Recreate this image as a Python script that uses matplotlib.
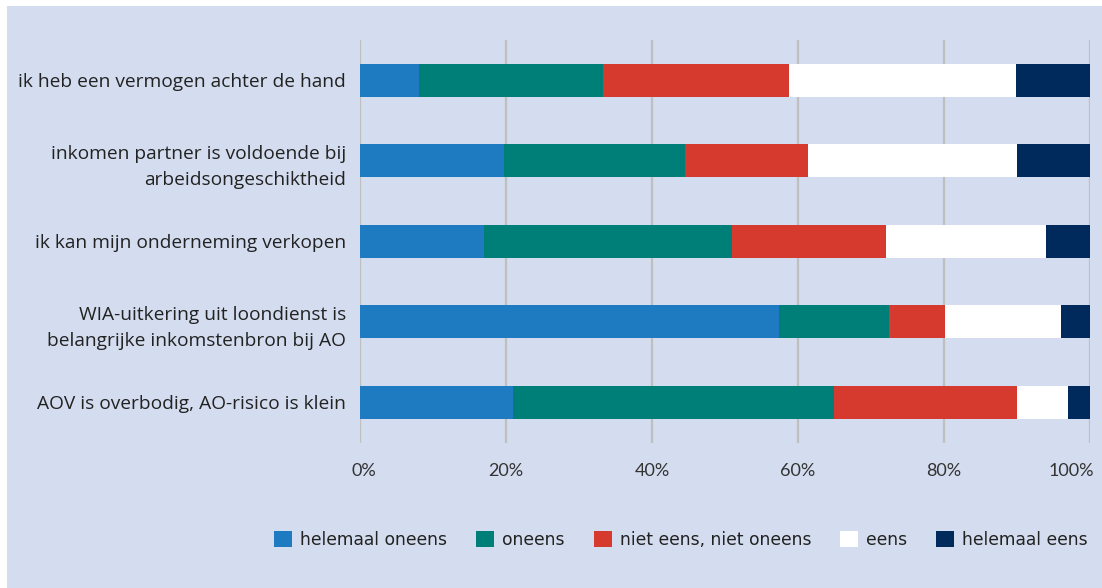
import matplotlib
matplotlib.use("Agg")
import matplotlib.pyplot as plt
from matplotlib.patches import Rectangle, Patch
import matplotlib.transforms as mtransforms
import numpy as np

categories = [
    "ik heb een vermogen achter de hand",
    "inkomen partner is voldoende bij\narbeidsongeschiktheid",
    "ik kan mijn onderneming verkopen",
    "WIA-uitkering uit loondienst is\nbelangrijke inkomstenbron bij AO",
    "AOV is overbodig, AO-risico is klein",
]
series_names = ["helemaal oneens", "oneens", "niet eens, niet oneens", "eens", "helemaal eens"]
helemaal_oneens = [8.1, 19.7, 17.0, 57.4, 21.0]
oneens = [25.2, 24.8, 34.0, 15.0, 43.9]
niet_eens_niet_oneens = [25.4, 16.9, 21.1, 7.8, 25.1]
eens = [31.2, 28.6, 21.9, 15.8, 7.0]
helemaal_eens = [10.1, 10.0, 6.0, 4.0, 3.0]
tick_values = [0, 20, 40, 60, 80, 100]
tick_labels = ["0%", "20%", "40%", "60%", "80%", "100%"]

colors = ["#1F7BC1", "#007E78", "#D63A2F", "#FFFFFF", "#002A5C"]
bg = "#D4DDEF"

W, H = 1102, 588
fig = plt.figure(figsize=(W / 100, H / 100), dpi=100)
fig.patch.set_facecolor("white")
fig.add_artist(Rectangle((7 / W, 0), 1 - 7 / W, 1 - 6 / H, transform=fig.transFigure,
                         facecolor=bg, edgecolor="none", zorder=0))

ax = fig.add_axes([360 / W, 1 - 442.5 / H, 730 / W, 402.5 / H])
ax.set_facecolor("none")

data = [helemaal_oneens, oneens, niet_eens_niet_oneens, eens, helemaal_eens]
y = np.arange(len(categories))
left = np.zeros(len(categories))
for vals, col, name in zip(data, colors, series_names):
    ax.barh(y, vals, left=left, height=0.41, color=col, label=name, zorder=3, edgecolor="none")
    left += np.array(vals)

ax.set_xlim(0, 100)
ax.set_ylim(len(categories) - 0.5, -0.5)
ax.set_xticks(tick_values)
ax.set_xticklabels(tick_labels, fontsize=13, family="Lato", color="#333333")
ax.set_yticks(y)
ax.set_yticklabels(categories, fontsize=13.8, family="Open Sans", color="#222222", linespacing=1.6)
ax.tick_params(axis="y", length=0, pad=10)
ax.tick_params(axis="x", length=0, pad=15)
for s in ax.spines.values():
    s.set_visible(False)
ax.grid(axis="x", color="#BFBFBF", linewidth=1.6, zorder=1)
ax.set_axisbelow(True)

# keep edge tick labels inside the frame like the reference
xl = ax.get_xticklabels()
xl[0].set_transform(xl[0].get_transform() + mtransforms.ScaledTranslation(4 / 100, 0, fig.dpi_scale_trans))
xl[-1].set_transform(xl[-1].get_transform() + mtransforms.ScaledTranslation(-19 / 100, 0, fig.dpi_scale_trans))

handles = [Patch(facecolor=c, edgecolor="none") for c in colors]
leg = fig.legend(handles, series_names, loc="center", bbox_to_anchor=(681 / W, 1 - 540 / H),
                 ncol=5, frameon=False, handlelength=1.05, handleheight=1.1,
                 handletextpad=0.47, columnspacing=1.7,
                 prop={"family": "DejaVu Sans", "size": 12.3})
for t in leg.get_texts():
    t.set_color("#222222")

fig.savefig("out.png", dpi=100, facecolor=fig.get_facecolor())
